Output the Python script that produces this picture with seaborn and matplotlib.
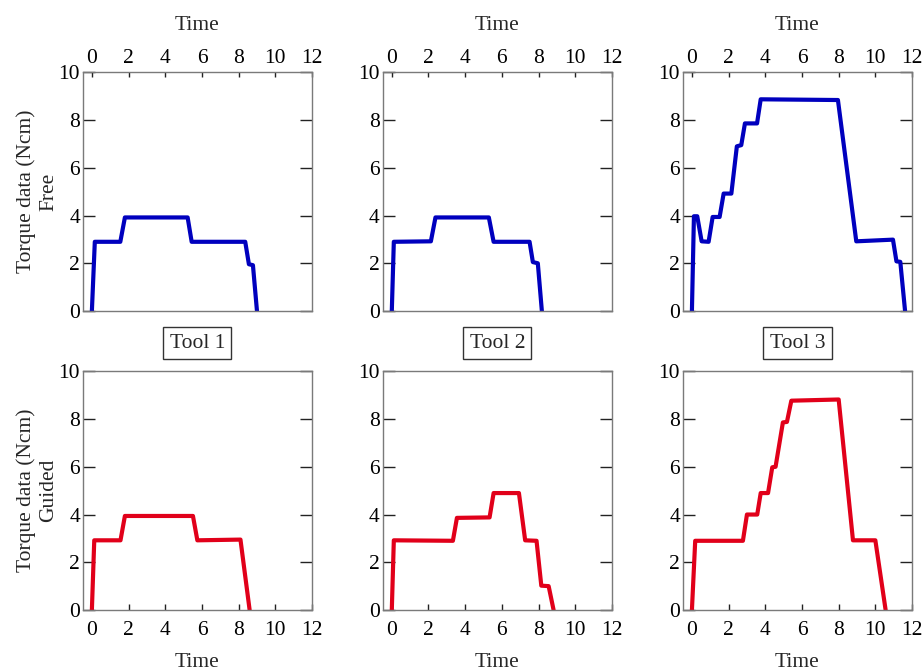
import matplotlib
matplotlib.use("Agg")
import matplotlib.pyplot as plt
import seaborn as sns
import pandas as pd

# Torque traces (time, torque in Ncm) for each tool and mode
free_tool1_t = [0.0, 0.16, 1.55, 1.80, 5.22, 5.44, 8.36, 8.56, 8.78, 9.0]
free_tool1_y = [0.0, 2.9, 2.9, 3.92, 3.92, 2.9, 2.9, 1.96, 1.92, 0.0]

free_tool2_t = [0.0, 0.11, 2.13, 2.38, 5.29, 5.55, 7.51, 7.69, 7.96, 8.18]
free_tool2_y = [0.0, 2.9, 2.92, 3.92, 3.92, 2.9, 2.9, 2.05, 2.0, 0.0]

free_tool3_t = [0.0, 0.11, 0.29, 0.53, 0.91, 1.13, 1.51, 1.73, 2.15, 2.45,
                2.69, 2.89, 3.55, 3.75, 7.96, 8.96, 10.96, 11.15, 11.36, 11.62]
free_tool3_y = [0.0, 3.97, 3.97, 2.92, 2.9, 3.94, 3.94, 4.92, 4.92, 6.9,
                6.95, 7.86, 7.86, 8.87, 8.84, 2.92, 2.99, 2.08, 2.06, 0.0]

guided_tool1_t = [0.0, 0.13, 1.56, 1.80, 5.51, 5.75, 8.10, 8.60]
guided_tool1_y = [0.0, 2.92, 2.92, 3.94, 3.94, 2.92, 2.95, 0.0]

guided_tool2_t = [0.0, 0.11, 3.33, 3.55, 5.33, 5.55, 6.93, 7.27, 7.89, 8.15, 8.55, 8.82]
guided_tool2_y = [0.0, 2.92, 2.9, 3.86, 3.88, 4.9, 4.9, 2.92, 2.9, 1.02, 1.0, 0.0]

guided_tool3_t = [0.0, 0.18, 2.78, 3.0, 3.56, 3.75, 4.15, 4.38, 4.56, 4.96,
                  5.18, 5.42, 8.0, 8.78, 10.0, 10.56]
guided_tool3_y = [0.0, 2.9, 2.9, 4.0, 4.0, 4.9, 4.9, 5.98, 6.0, 7.86,
                  7.88, 8.77, 8.82, 2.92, 2.92, 0.0]

tools = ["Tool 1", "Tool 2", "Tool 3"]
modes = ["Free", "Guided"]
x_ticks = [0, 2, 4, 6, 8, 10, 12]
y_ticks = [0, 2, 4, 6, 8, 10]

traces = {
    ("Free", "Tool 1"): (free_tool1_t, free_tool1_y),
    ("Free", "Tool 2"): (free_tool2_t, free_tool2_y),
    ("Free", "Tool 3"): (free_tool3_t, free_tool3_y),
    ("Guided", "Tool 1"): (guided_tool1_t, guided_tool1_y),
    ("Guided", "Tool 2"): (guided_tool2_t, guided_tool2_y),
    ("Guided", "Tool 3"): (guided_tool3_t, guided_tool3_y),
}
mode_colors = {"Free": "#0000be", "Guided": "#e1001a"}

FS = 15.5

sns.set_theme(style="white")
plt.rcParams["font.family"] = ["Liberation Serif", "DejaVu Serif"]
plt.rcParams["font.size"] = FS

fig = plt.figure(figsize=(9.22, 6.71), dpi=100)

col_left = [0.0897, 0.415, 0.7405]
col_w = 0.2487
row_bottom = {"Free": 0.5365, "Guided": 0.0909}
row_h = 0.3557

for mode in modes:
    for ci, tool in enumerate(tools):
        ax = fig.add_axes([col_left[ci], row_bottom[mode], col_w, row_h])
        t, y = traces[(mode, tool)]
        df = pd.DataFrame({"Time": t, "Torque": y})
        sns.lineplot(data=df, x="Time", y="Torque", ax=ax, sort=False,
                     estimator=None, color=mode_colors[mode], linewidth=3.0)
        ax.set_xlim(-0.5, 12)
        ax.set_ylim(0, 10)
        ax.set_xticks(x_ticks)
        ax.set_yticks(y_ticks)
        for sp in ax.spines.values():
            sp.set_visible(True)
            sp.set_color("#7a7a7a")
            sp.set_linewidth(1.0)

        ax.tick_params(axis="y", which="both", direction="in", length=8.5,
                       width=1.0, color="#222222", left=True, right=True,
                       labelleft=True, labelright=False, labelsize=FS,
                       labelcolor="black", pad=2)
        if mode == "Free":
            ax.tick_params(axis="x", direction="in", length=3.5, width=1.0,
                           color="#222222", top=True, bottom=False,
                           labeltop=True, labelbottom=False, labelsize=FS,
                           labelcolor="black", pad=3)
            ax.xaxis.set_label_position("top")
            ax.set_xlabel("Time", fontsize=FS, labelpad=14)
        else:
            ax.tick_params(axis="x", direction="in", length=4.5, width=1.0,
                           color="#222222", top=False, bottom=True,
                           labeltop=False, labelbottom=True, labelsize=FS,
                           labelcolor="black", pad=8)
            ax.set_xlabel("Time", fontsize=FS, labelpad=9)
            ax.text(0.5, 1.117, tool, transform=ax.transAxes, ha="center",
                    va="center", fontsize=FS,
                    bbox=dict(boxstyle="square,pad=0.3", fc="white",
                              ec="#333333", lw=1.0))

        if ci == 0:
            ax.set_ylabel("Torque data (Ncm)\n" + mode, fontsize=FS,
                          labelpad=0, linespacing=1.25)
        else:
            ax.set_ylabel("")

fig.savefig("out.png", dpi=100)
